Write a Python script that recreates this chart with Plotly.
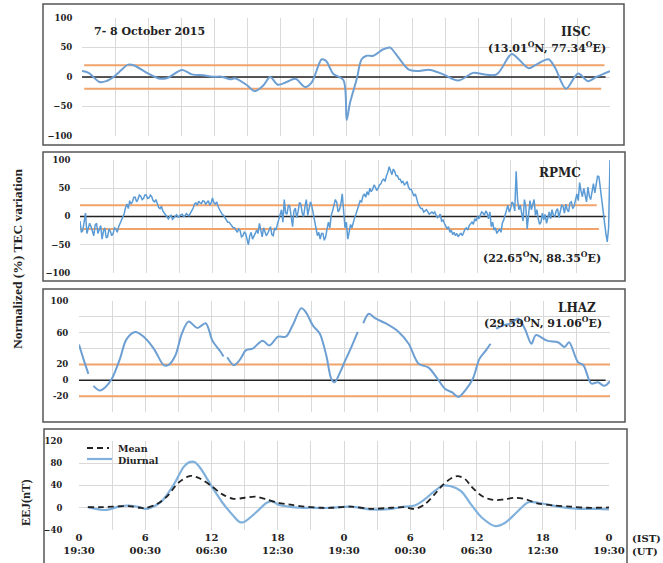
import plotly.graph_objects as go

W, H = 663, 563

# ---------------- data ----------------
# Panel 1: IISC normalized TEC variation (%)
iisc_hours = [0, 0.6, 1.6, 2.2, 3, 4.2, 4.7, 5.9, 6.9, 7.7, 9.1, 10, 11, 11.9, 12.7, 13.5, 13.9,
              15, 15.7, 16.5, 17.1, 17.8, 18.6, 19.4, 20.3, 20.9, 21.8, 22.2, 22.55, 22.85, 23.76,
              24.06, 24.36, 24.97, 25.42, 25.88, 26.48, 27.39, 28, 28.45, 29.67, 30.42, 31.64,
              32.85, 34.2, 35.58, 36.5, 37.7, 39.06, 39.7, 40.6, 41.3, 42.4, 43, 44, 45.1, 46,
              46.8, 48]
iisc_tec = [10, 7, -8.5, -7, 2, 21, 20, 7, -2, -2, 12, 4.5, 3, 0.5, 0.5, -4, -2,
            -14, -24, -14, 0, -13, -8.5, -3, -17, -8.5, 30, 27, 15, 5, -5,
            -73, -44, -4, 30, 36, 36, 47, 50, 41, 13, 10, 12,
            4.5, -6, 7, 4.5, 4.5, 39, 30, 15, 21, 30, 16, -20, 6, -7,
            0.5, 10]
iisc_thresholds = [20, -20]

# Panel 2: RPMC normalized TEC variation (%), one value every 7.5 min, hour by hour
rpmc_tec = [
    -8, -28, -25, -5, 6, -30, -22, -12,        # 0 h
    -18, -28, -34, -15, -12, -30, -24, -16,    # 1
    -40, -26, -20, -38, -36, -22, -26, -34,    # 2
    -30, -20, -22, -28, -18, -12, -8, 0,       # 3
    5, 16, 22, 14, 28, 22, 26, 34,             # 4
    34, 26, 30, 38, 36, 30, 32, 38,            # 5
    38, 32, 33, 38, 35, 28, 26, 30,            # 6
    22, 16, 14, 18, 10, 6, 4, 0,               # 7
    -4, 0, 2, -5, -2, 2, 3, -1,                # 8
    0, 3, 4, 0, 1, 5, 3, 1,                    # 9
    6, 10, 15, 22, 24, 20, 27, 24,             # 10
    23, 28, 27, 22, 25, 28, 20, 24,            # 11
    33, 24, 22, 26, 18, 12, 8, 4,              # 12
    2, -2, -6, -10, -10, -14, -16, -20,        # 13
    -20, -24, -28, -22, -25, -36, -34, -28,    # 14
    -30, -40, -50, -34, -28, -40, -36, -30,    # 15
    -24, -30, -12, -28, -36, -20, -26, -34,    # 16
    -30, -22, -18, -32, -34, -20, -24, -14,    # 17
    -5, 8, 12, -10, 30, 6, 4, 20,              # 18
    18, 0, -18, 10, 15, -2, 8, 25,             # 19
    22, 6, 0, 18, 30, 2, 12, 26,               # 20
    18, 4, -5, -20, -34, -28, -40, -30,        # 21
    -30, -42, -36, -22, -10, -20, 2, 10,       # 22
    18, 30, 25, 8, 12, 22, 40, 10,             # 23
    -20, -10, -40, -28, -14, -20, -8, -2,      # 24
    5, 14, 18, 28, 26, 36, 40, 34,             # 25
    44, 38, 50, 44, 48, 56, 52, 46,            # 26
    50, 56, 58, 64, 66, 62, 72, 78,            # 27
    88, 80, 74, 84, 80, 72, 72, 66,            # 28
    66, 60, 62, 56, 58, 62, 52, 48,            # 29
    48, 42, 36, 40, 28, 22, 18, 14,            # 30
    14, 8, 10, 12, 8, 4, 6, 8,                 # 31
    5, 8, 2, -2, 0, 4, -8, -6,                 # 32
    -12, -16, -22, -18, -28, -24, -32, -28,    # 33
    -34, -30, -36, -32, -30, -34, -26, -22,    # 34
    -20, -24, -16, -12, -10, -14, -4, -8,      # 35
    0, -4, 4, 8, 6, 2, 10, 6,                  # 36
    -4, 8, -18, -10, -24, -20, -30, -26,       # 37
    -22, -28, -12, -6, 4, 10, 20, 8,           # 38
    14, 26, 22, 10, 80, 30, 12, 20,            # 39
    8, -8, 30, 18, -22, 4, 28, 12,             # 40
    22, 30, 2, 12, -4, -14, -10, 6,            # 41
    -6, 4, -12, -2, 8, -4, 12, 2,              # 42
    0, 10, 14, -2, 10, 20, 18, 6,              # 43
    22, 12, 8, 24, 26, 14, 18, 30,             # 44
    40, 28, 60, 45, 35, 50, 40, 26,            # 45
    52, 36, 30, 48, 58, 42, 60, 72,            # 46
    70, 50, 30, 0, -10, -30, -45, -20,         # 47
    100,                                       # 48
]
rpmc_hours = [i / 8 for i in range(len(rpmc_tec))]
rpmc_thresholds = [20, -22]

# Panel 3: LHAZ normalized TEC variation (%), None = data gap
lhaz_hours = [0, 0.4, 0.85, 0.95, 1.3, 1.9, 2.36, 2.97, 3.7, 4.3, 5.1, 5.85, 6.76, 7.67, 8.1, 8.7,
              9.3, 9.9, 10.7, 11.45, 12.06, 12.8, 13.06, 13.2, 13.4, 14, 14.5, 15.1, 15.7, 16.6,
              17.2, 18, 18.7, 19.3, 20.1, 20.5, 21.15, 21.76, 22.36, 22.8, 23.1, 23.6, 24, 24.5,
              25.2, 25.4, 25.7, 26.2, 26.8, 27.7, 28.9, 29.8, 30.7, 31.6, 32.4, 33.1, 33.7,
              34.3, 34.9, 35.6, 36.2, 36.8, 37.2, 37.4, 37.7, 38.3, 39.1, 39.7, 40.3, 40.9,
              41.3, 42.3, 43.3, 43.9, 44.3, 45.1, 45.6, 46.3, 46.9, 47.5, 48]
lhaz_tec = [45, 27, 8, None, -7, -13, -9, 2, 27, 52, 61, 55, 40, 19, 19.5, 31,
            59, 74, 66, 72, 50, 36, 30, None, 29, 19, 25, 38, 40, 50,
            44, 55, 55, 69, 91, 86, 69, 59, 31, 2, -2.5, 10, 23, 38,
            61, None, 72, 84, 78, 72, 61, 46, 21, 16, 2, -11, -15,
            -21, -13, 2, 27, 38, 46, None, 65, 69, 72, 78, 65, 46,
            57, 50, 48, 42, 48, 23, 19, -4, -2.5, -7, -1]
lhaz_thresholds = [20, -20]

# Panel 4: EEJ (nT)
eej_diurnal_hours = [0.8, 1.5, 2.5, 3.6, 4.5, 5.5, 6, 6.5, 7.5, 8.6, 9.5, 10, 10.5, 11, 12, 13,
                     14, 14.5, 14.9, 16, 17, 17.5, 18, 19, 20, 21, 22, 22.8, 24.6, 26.5, 28.3,
                     29.5, 30.4, 31.3, 32.2, 32.97, 33.6, 34.6, 35.5, 36.5, 37.7, 38.6, 39.6,
                     40.7, 41.6, 43.4, 45.2, 47, 48]
eej_diurnal = [1, -2, -4, 2, 4, 1, -2, 0, 12, 42, 74, 82, 82, 71, 39, 9,
               -15, -25, -26, -9, 9, 12, 6, 2, 0, 0, -0.5, 0, 2, -3, -2,
               2, 4, 15, 30, 40, 39, 30, 6, -18, -33, -27, -9,
               10, 9, 2, -2, -2, -3]
eej_mean_hours = [0.8, 2, 3, 4.5, 5.5, 6, 7, 8, 9, 10, 10.5, 11, 12, 13, 14, 15, 16, 17, 18,
                  19, 20, 22, 22.8, 24.6, 26.5, 28.3, 29.5, 30.4, 31.3, 32.2, 33, 33.8, 34.3,
                  35, 35.5, 36.5, 37.5, 38.5, 39.5, 40.5, 41.5, 43, 44.5, 46, 48]
eej_mean = [1, 1, 2, 3, 0, -0.5, 6, 21, 45, 57, 56, 52, 39, 24, 16, 18, 20, 15, 9,
            6, 3, 0, 0, 2, -2, 0, 1, -2, 6, 24, 42, 54, 57,
            51, 39, 21, 14, 15, 18, 15, 8, 4, 2, 0, 0.5]

x_tick_hours = [0, 3, 6, 9, 12, 15, 18, 21, 24, 27, 30, 33, 36, 39, 42, 45, 48]
x_tick_labels = ["0<br>19:30", "", "6<br>00:30", "", "12<br>06:30", "", "18<br>12:30", "",
                 "0<br>19:30", "", "6<br>00:30", "", "12<br>06:30", "", "18<br>12:30", "",
                 "0<br>19:30"]

# ---------------- styling ----------------
BLUE = "#5b9bd5"
BLUE_SOFT = "#6d9fd2"
BLUE_LIGHT = "#80b1dd"
ORANGE = "#f0a46c"
GRID = "#d9d9d9"
SERIF = "DejaVu Serif"
TITLE_SERIF = "Liberation Serif"
MEAN_DASH = "6px,4px"


def xd(left, right):
    return [left / W, right / W]


def yd(top, bottom):
    return [1 - bottom / H, 1 - top / H]


def px(x):
    return x / W


def py(y):
    return 1 - y / H


tickfont = dict(family=SERIF, size=8.5, color="#222", weight="bold")

fig = go.Figure()

# threshold & zero lines (drawn as series)
panels = [
    ("x", "y", iisc_thresholds, [0.2, 47.5], [0.2, 47.2], [0, 47.6]),
    ("x2", "y2", rpmc_thresholds, [0, 46.8], [0, 47.0], [0, 47.6]),
    ("x3", "y3", lhaz_thresholds, [0, 48], [0, 48], [0, 47.6]),
]
for xa, ya, thr, span_u, span_l, span_z in panels:
    fig.add_trace(go.Scatter(x=span_u, y=[thr[0], thr[0]], mode="lines", xaxis=xa, yaxis=ya,
                             line=dict(color=ORANGE, width=2), showlegend=False, hoverinfo="skip"))
    fig.add_trace(go.Scatter(x=span_l, y=[thr[1], thr[1]], mode="lines", xaxis=xa, yaxis=ya,
                             line=dict(color=ORANGE, width=2), showlegend=False, hoverinfo="skip"))
    fig.add_trace(go.Scatter(x=span_z, y=[0, 0], mode="lines", xaxis=xa, yaxis=ya,
                             line=dict(color="#222", width=1.6), showlegend=False, hoverinfo="skip"))

fig.add_trace(go.Scatter(x=iisc_hours, y=iisc_tec, mode="lines", xaxis="x", yaxis="y",
                         line=dict(color=BLUE_SOFT, width=2, shape="spline", smoothing=0.9),
                         showlegend=False))
fig.add_trace(go.Scatter(x=rpmc_hours, y=rpmc_tec, mode="lines", xaxis="x2", yaxis="y2",
                         line=dict(color=BLUE, width=1.5), showlegend=False))
fig.add_trace(go.Scatter(x=lhaz_hours, y=lhaz_tec, mode="lines", xaxis="x3", yaxis="y3",
                         connectgaps=False,
                         line=dict(color=BLUE_SOFT, width=2, shape="spline", smoothing=0.9),
                         showlegend=False))
fig.add_trace(go.Scatter(x=eej_diurnal_hours, y=eej_diurnal, mode="lines", xaxis="x4", yaxis="y4",
                         name="Diurnal",
                         line=dict(color=BLUE_LIGHT, width=2.2, shape="spline", smoothing=0.9),
                         showlegend=False))
fig.add_trace(go.Scatter(x=eej_mean_hours, y=eej_mean, mode="lines", xaxis="x4", yaxis="y4",
                         name="Mean",
                         line=dict(color="#222", width=1.8, dash=MEAN_DASH, shape="spline",
                                   smoothing=0.9),
                         showlegend=False))

common_x = dict(range=[0, 48], tickvals=x_tick_hours, showgrid=True, gridcolor=GRID, gridwidth=1,
                zeroline=False, showline=False, ticks="", fixedrange=True, automargin=False)
common_y = dict(showgrid=True, gridcolor=GRID, gridwidth=1, zeroline=False, showline=False,
                ticks="outside", tickcolor="rgba(0,0,0,0)", tickfont=tickfont, fixedrange=True,
                automargin=False)

fig.update_layout(
    width=W, height=H,
    margin=dict(l=0, r=0, t=0, b=0, pad=0, autoexpand=False),
    paper_bgcolor="white", plot_bgcolor="white",
    showlegend=False,
    xaxis=dict(domain=xd(82, 610), anchor="y", showticklabels=False, **common_x),
    yaxis=dict(domain=yd(18, 136), anchor="x", range=[-100, 100],
               tickvals=[-100, -50, 0, 50, 100], ticklen=7, **common_y),
    xaxis2=dict(domain=xd(80, 610), anchor="y2", showticklabels=False, **common_x),
    yaxis2=dict(domain=yd(160, 273), anchor="x2", range=[-100, 100],
                tickvals=[-100, -50, 0, 50, 100], ticklen=7, **common_y),
    xaxis3=dict(domain=xd(79, 610), anchor="y3", showticklabels=False, **common_x),
    yaxis3=dict(domain=yd(301, 412), anchor="x3", range=[-40, 100],
                tickvals=[-40, -20, 0, 20, 40, 60, 80, 100],
                ticktext=["", "-20", "0", "20", "", "60", "", "100"], ticklen=8, **common_y),
    xaxis4=dict(domain=xd(79, 609), anchor="y4", showticklabels=True, ticktext=x_tick_labels,
                tickfont=dict(family=SERIF, size=10, color="#222", weight="bold"), **common_x),
    yaxis4=dict(domain=yd(441, 530), anchor="x4", range=[-40, 120],
                tickvals=[-40, 0, 40, 80, 120], ticklen=14, **common_y),
)

# panel frames
frames = [(43, 4, 624, 145), (43, 152, 625, 281), (43, 289, 625, 422), (44, 429, 627, 575)]
shapes = []
for x0, y0, x1, y1 in frames:
    shapes.append(dict(type="rect", xref="paper", yref="paper", x0=px(x0), x1=px(x1),
                       y0=py(y1), y1=py(y0), line=dict(color="#555555", width=1.5),
                       fillcolor="rgba(0,0,0,0)", layer="above"))
# legend samples
shapes.append(dict(type="line", xref="paper", yref="paper", x0=px(87), x1=px(109), y0=py(448),
                   y1=py(448), line=dict(color="#222", width=1.8, dash=MEAN_DASH)))
shapes.append(dict(type="line", xref="paper", yref="paper", x0=px(87), x1=px(112), y0=py(459),
                   y1=py(459), line=dict(color=BLUE_LIGHT, width=2.2)))
fig.update_layout(shapes=shapes)

ann_font = dict(family=SERIF, size=11, color="#222", weight="bold")
name_font = dict(family=SERIF, size=12, color="#222", weight="bold")
annotations = [
    dict(text="7- 8 October 2015", x=px(92), y=py(32), xanchor="left", yanchor="middle", font=ann_font),
    dict(text="IISC", x=px(575), y=py(32), xanchor="center", yanchor="middle", font=name_font),
    dict(text="(13.01<sup>O</sup>N, 77.34<sup>O</sup>E)", x=px(547), y=py(47), xanchor="center",
         yanchor="middle", font=ann_font),
    dict(text="RPMC", x=px(560), y=py(173), xanchor="center", yanchor="middle", font=name_font),
    dict(text="(22.65<sup>O</sup>N, 88.35<sup>O</sup>E)", x=px(542), y=py(257), xanchor="center",
         yanchor="middle", font=ann_font),
    dict(text="LHAZ", x=px(577), y=py(308), xanchor="center", yanchor="middle", font=name_font),
    dict(text="(29.59<sup>O</sup>N, 91.06<sup>O</sup>E)", x=px(543), y=py(322), xanchor="center",
         yanchor="middle", font=ann_font),
    dict(text="Mean", x=px(116), y=py(448), xanchor="left", yanchor="middle",
         font=dict(family=SERIF, size=9.5, color="#222", weight="bold")),
    dict(text="Diurnal", x=px(116), y=py(460), xanchor="left", yanchor="middle",
         font=dict(family=SERIF, size=9.5, color="#222", weight="bold")),
    dict(text="(IST)<br>(UT)", x=px(630), y=py(531), xanchor="left", yanchor="top", align="left",
         font=dict(family=SERIF, size=10, color="#222", weight="bold")),
    dict(text="Normalized (%) TEC variation", x=px(17), y=py(259), textangle=-90,
         xanchor="center", yanchor="middle",
         font=dict(family=TITLE_SERIF, size=13.5, color="#222", weight="bold")),
    dict(text="EEJ(nT)", x=px(26), y=py(503), textangle=-90, xanchor="center", yanchor="middle",
         font=dict(family=TITLE_SERIF, size=12.5, color="#222", weight="bold")),
]
for a in annotations:
    a.update(xref="paper", yref="paper", showarrow=False)
fig.update_layout(annotations=annotations)

fig.write_html("out.html", config={"displayModeBar": False},
               post_script="document.body.style.margin='0';document.body.style.overflow='hidden';")
